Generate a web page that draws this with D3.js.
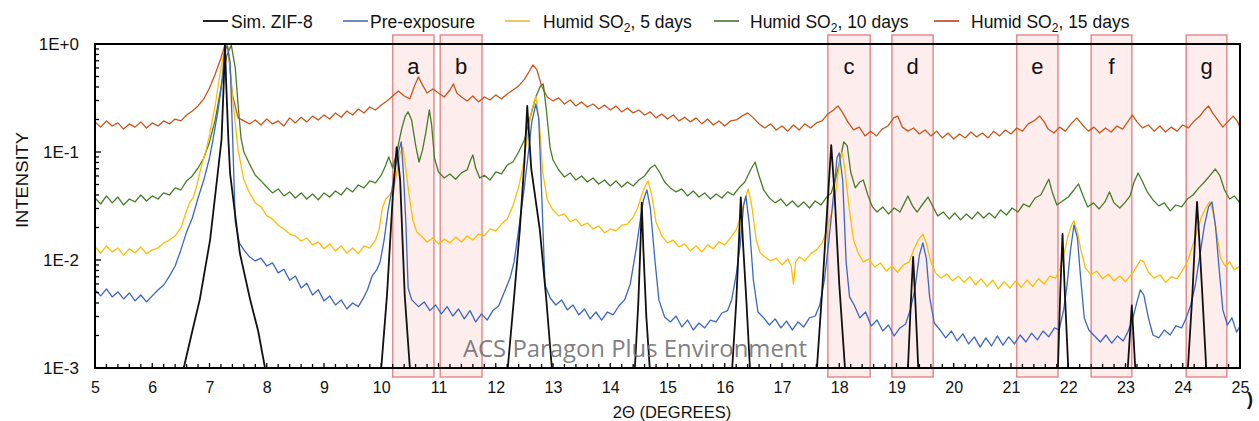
<!DOCTYPE html>
<html><head><meta charset="utf-8">
<script src="https://cdn.jsdelivr.net/npm/d3@7"></script>
<style>body{margin:0;background:#fff}svg{display:block}</style>
</head><body>
<svg id="chart" width="1259" height="421"></svg>
<script>
// ---------------- data ----------------
const seriesNames = ["Sim. ZIF-8", "Pre-exposure", "Humid SO2, 5 days", "Humid SO2, 10 days", "Humid SO2, 15 days"];
const xTicks = [5,6,7,8,9,10,11,12,13,14,15,16,17,18,19,20,21,22,23,24,25];
const yTicks = [1, 0.1, 0.01, 0.001];
const yTickLabels = ["1E+0", "1E-1", "1E-2", "1E-3"];
const regionLabels = ["a","b","c","d","e","f","g"];
const regionStart = [10.2, 11.03, 17.8, 18.92, 21.1, 22.4, 24.06];
const regionEnd   = [10.92, 11.76, 18.54, 19.64, 21.82, 23.11, 24.77];

const simZif8 = [[5.0,.0005],[6.5,.0008],[6.55,.001],[6.7,.0022],[6.83,.0043],[7.01,.0153],[7.13,.055],[7.21,.13],[7.25,.45],[7.27,1.0],[7.29,.45],[7.33,.13],[7.36,.063],[7.53,.0116],[7.71,.0043],[7.85,.0022],[7.97,.001],[8.02,.0008],
[9.98,.0008],[10.0,.001],[10.1,.0047],[10.2,.038],[10.27,.111],[10.33,.055],[10.41,.0047],[10.5,.001],[10.52,.0008],
[12.18,.0008],[12.21,.001],[12.32,.0045],[12.42,.019],[12.5,.08],[12.55,.267],[12.62,.07],[12.77,.019],[12.88,.0045],[12.98,.001],[13.0,.0008],
[14.41,.0008],[14.43,.001],[14.49,.004],[14.53,.015],[14.55,.034],[14.58,.012],[14.63,.003],[14.69,.001],[14.71,.0008],
[16.11,.0008],[16.13,.001],[16.2,.004],[16.25,.016],[16.28,.038],[16.32,.014],[16.38,.004],[16.44,.001],[16.46,.0008],
[17.59,.0008],[17.61,.001],[17.7,.005],[17.79,.03],[17.86,.116],[17.92,.04],[18.0,.006],[18.1,.001],[18.12,.0008],
[19.18,.0008],[19.2,.001],[19.25,.004],[19.29,.0107],[19.33,.004],[19.38,.001],[19.4,.0008],
[21.8,.0008],[21.82,.001],[21.86,.005],[21.9,.0174],[21.94,.005],[22.0,.001],[22.02,.0008],
[23.02,.0008],[23.04,.001],[23.11,.0038],[23.17,.001],[23.19,.0008],
[24.07,.0008],[24.09,.001],[24.17,.005],[24.22,.018],[24.25,.0345],[24.29,.015],[24.34,.005],[24.41,.001],[24.43,.0008],[25.0,.0005]];

const preExposure = [[5.0,.00528],[5.1,.00465],[5.2,.0054],[5.3,.00455],[5.4,.00506],[5.5,.00436],[5.6,.00495],[5.7,.00418],[5.8,.00474],[5.9,.00409],[6.0,.00465],[6.1,.00528],[6.2,.00587],[6.3,.0071],[6.4,.0088],[6.5,.0124],[6.6,.0182],[6.7,.0245],[6.8,.0375],[6.9,.055],[7.0,.088],[7.06,.129],[7.15,.245],[7.2,.375],[7.27,.88],[7.31,.96],[7.36,.68],[7.4,.16],[7.45,.0225],[7.52,.0144],[7.6,.0124],[7.7,.0107],[7.8,.0098],[7.9,.0104],[8.0,.0088],[8.1,.0094],[8.2,.0076],[8.3,.0082],[8.4,.0065],[8.5,.0071],[8.6,.0055],[8.7,.0061],[8.8,.00474],[8.9,.0053],[9.0,.00418],[9.1,.00465],[9.2,.00383],[9.3,.00427],[9.4,.00352],[9.5,.0040],[9.6,.0037],[9.68,.00436],[9.76,.0053],[9.84,.0071],[9.92,.0081],[9.98,.0096],[10.05,.0153],[10.12,.029],[10.18,.0427],[10.24,.0682],[10.3,.10],[10.35,.124],[10.39,.06],[10.43,.022],[10.47,.0055],[10.53,.0043],[10.65,.0037],[10.75,.00409],[10.85,.0034],[10.95,.00383],[11.05,.00317],[11.15,.0037],[11.25,.00303],[11.35,.00352],[11.45,.00285],[11.55,.0034],[11.65,.00267],[11.75,.00317],[11.85,.00278],[11.95,.0034],[12.05,.00375],[12.15,.00506],[12.25,.0068],[12.32,.0096],[12.4,.019],[12.48,.0392],[12.56,.088],[12.63,.190],[12.7,.278],[12.75,.207],[12.8,.0445],[12.86,.0059],[12.95,.00445],[13.05,.00383],[13.15,.00427],[13.25,.00345],[13.35,.00383],[13.45,.0031],[13.55,.00352],[13.65,.00285],[13.75,.0033],[13.85,.00278],[13.95,.0033],[14.05,.0031],[14.15,.00375],[14.25,.00427],[14.35,.006],[14.45,.0124],[14.52,.0225],[14.58,.036],[14.64,.0445],[14.7,.0303],[14.78,.01],[14.85,.00427],[14.95,.00297],[15.05,.00267],[15.15,.00303],[15.25,.0024],[15.35,.00278],[15.45,.00225],[15.55,.00261],[15.65,.00235],[15.75,.00278],[15.85,.00267],[15.95,.00323],[16.05,.0034],[16.12,.00427],[16.2,.0073],[16.27,.0138],[16.33,.0323],[16.37,.0392],[16.43,.0211],[16.5,.0065],[16.58,.0033],[16.68,.00291],[16.78,.0025],[16.88,.00285],[16.98,.00235],[17.08,.00272],[17.18,.00225],[17.28,.00267],[17.38,.0024],[17.48,.00291],[17.58,.00303],[17.66,.00383],[17.74,.0065],[17.82,.0153],[17.9,.040],[17.96,.088],[18.0,.098],[18.06,.055],[18.12,.0096],[18.18,.00455],[18.26,.00383],[18.36,.00291],[18.46,.0033],[18.56,.00245],[18.66,.00278],[18.76,.0022],[18.86,.0025],[18.96,.00198],[19.06,.00235],[19.16,.00256],[19.24,.00345],[19.32,.0053],[19.4,.0111],[19.46,.0144],[19.52,.0104],[19.58,.00445],[19.66,.00261],[19.76,.00225],[19.86,.0019],[19.96,.0022],[20.06,.00178],[20.16,.00207],[20.26,.00167],[20.36,.00194],[20.46,.00156],[20.56,.0019],[20.66,.0016],[20.76,.00198],[20.86,.00163],[20.96,.00194],[21.06,.00167],[21.16,.00202],[21.26,.00174],[21.36,.0021],[21.46,.00182],[21.56,.0022],[21.66,.00194],[21.76,.00235],[21.84,.00225],[21.92,.00345],[21.98,.0059],[22.04,.0124],[22.1,.0211],[22.16,.016],[22.22,.0065],[22.28,.00291],[22.36,.00225],[22.46,.00198],[22.56,.00174],[22.66,.00202],[22.76,.0017],[22.86,.00198],[22.96,.00178],[23.04,.00215],[23.12,.00278],[23.2,.00409],[23.26,.0053],[23.32,.00474],[23.4,.00291],[23.48,.00202],[23.58,.0019],[23.68,.00225],[23.78,.00202],[23.88,.00245],[23.98,.00235],[24.06,.00291],[24.14,.00383],[24.22,.0059],[24.3,.0111],[24.38,.0211],[24.45,.031],[24.51,.0345],[24.57,.0211],[24.63,.009],[24.7,.00345],[24.78,.0025],[24.86,.00291],[24.94,.00215],[25.0,.00245]];

const fiveDays = [[5.0,.0132],[5.1,.0116],[5.2,.0135],[5.3,.0119],[5.4,.0129],[5.5,.0111],[5.6,.0127],[5.7,.0116],[5.8,.0132],[5.9,.0114],[6.0,.0124],[6.1,.0129],[6.2,.0144],[6.3,.0153],[6.4,.0167],[6.5,.0198],[6.58,.0267],[6.65,.0338],[6.72,.0383],[6.78,.0495],[6.85,.0711],[6.95,.109],[7.0,.144],[7.1,.272],[7.2,.60],[7.28,.98],[7.34,.808],[7.4,.330],[7.5,.104],[7.6,.055],[7.7,.0418],[7.8,.0338],[7.9,.031],[8.0,.0256],[8.1,.024],[8.2,.021],[8.3,.0194],[8.4,.0174],[8.5,.0167],[8.6,.015],[8.7,.016],[8.8,.0138],[8.9,.0147],[9.0,.0127],[9.1,.0141],[9.2,.0121],[9.3,.0135],[9.4,.0116],[9.5,.0129],[9.6,.0114],[9.7,.0135],[9.8,.0129],[9.9,.0153],[9.96,.019],[10.02,.0303],[10.08,.0367],[10.15,.040],[10.22,.0465],[10.28,.0682],[10.33,.098],[10.38,.111],[10.43,.0682],[10.48,.0427],[10.55,.0235],[10.62,.0182],[10.7,.0167],[10.8,.0147],[10.9,.016],[11.0,.0141],[11.1,.0156],[11.2,.0144],[11.3,.0163],[11.4,.0147],[11.5,.0167],[11.6,.0153],[11.7,.0174],[11.8,.0167],[11.9,.0194],[12.0,.0186],[12.1,.0215],[12.2,.024],[12.3,.0317],[12.4,.0474],[12.48,.0757],[12.55,.135],[12.62,.235],[12.7,.330],[12.76,.190],[12.82,.0653],[12.9,.036],[13.0,.029],[13.1,.0256],[13.2,.0267],[13.3,.0225],[13.4,.024],[13.5,.0207],[13.6,.022],[13.7,.0194],[13.8,.0207],[13.9,.0178],[14.0,.0194],[14.1,.0186],[14.2,.021],[14.3,.0215],[14.4,.025],[14.48,.0303],[14.55,.040],[14.61,.0485],[14.66,.054],[14.72,.0409],[14.8,.0225],[14.9,.0167],[15.0,.0144],[15.1,.0153],[15.2,.0132],[15.3,.0141],[15.4,.0121],[15.5,.0135],[15.6,.0119],[15.7,.0138],[15.8,.0127],[15.9,.0147],[16.0,.0138],[16.1,.016],[16.2,.019],[16.28,.0256],[16.35,.036],[16.41,.0455],[16.47,.0323],[16.55,.0153],[16.62,.0116],[16.7,.0107],[16.8,.0098],[16.9,.0104],[17.0,.009],[17.1,.0102],[17.16,.0088],[17.2,.006],[17.24,.0096],[17.3,.0107],[17.4,.0098],[17.5,.0114],[17.6,.0124],[17.7,.0144],[17.8,.0198],[17.88,.0291],[17.95,.0465],[18.0,.0757],[18.05,.10],[18.1,.0682],[18.17,.031],[18.25,.0153],[18.33,.0116],[18.42,.0096],[18.52,.0102],[18.62,.0086],[18.72,.0094],[18.82,.0079],[18.92,.0088],[19.02,.0077],[19.12,.009],[19.22,.0096],[19.3,.0124],[19.38,.0153],[19.46,.0174],[19.52,.0144],[19.6,.0096],[19.68,.0076],[19.78,.0068],[19.88,.0074],[19.98,.0064],[20.08,.0071],[20.18,.0062],[20.28,.007],[20.38,.0059],[20.48,.0067],[20.58,.0057],[20.68,.0065],[20.78,.0054],[20.88,.0063],[20.98,.0055],[21.08,.0064],[21.18,.0056],[21.28,.0065],[21.38,.0057],[21.48,.0067],[21.58,.006],[21.68,.0071],[21.78,.0068],[21.86,.0084],[21.94,.0124],[22.0,.017],[22.06,.0211],[22.1,.023],[22.16,.0182],[22.22,.0124],[22.3,.0084],[22.4,.0073],[22.5,.0079],[22.6,.0067],[22.7,.0074],[22.8,.0064],[22.9,.0071],[23.0,.0063],[23.1,.0073],[23.18,.0084],[23.26,.01],[23.32,.0096],[23.4,.0077],[23.5,.0068],[23.6,.0073],[23.7,.0062],[23.8,.007],[23.9,.0067],[24.0,.0081],[24.08,.0096],[24.16,.0129],[24.24,.0178],[24.32,.0245],[24.4,.0303],[24.47,.0345],[24.53,.0278],[24.6,.017],[24.66,.0104],[24.74,.0088],[24.82,.0096],[24.9,.0081],[25.0,.0088]];

const tenDays = [[5.0,.0375],[5.1,.033],[5.2,.0392],[5.3,.0338],[5.4,.0383],[5.5,.0323],[5.6,.0367],[5.7,.0345],[5.8,.040],[5.9,.0352],[6.0,.0392],[6.1,.0367],[6.2,.0418],[6.3,.040],[6.4,.0465],[6.5,.0445],[6.6,.054],[6.7,.060],[6.8,.0711],[6.9,.088],[7.0,.124],[7.1,.198],[7.2,.392],[7.3,.774],[7.38,.98],[7.45,.60],[7.5,.272],[7.55,.135],[7.6,.10],[7.7,.0774],[7.8,.061],[7.9,.054],[8.0,.0474],[8.1,.0418],[8.2,.0455],[8.3,.0392],[8.4,.0427],[8.5,.0375],[8.6,.0418],[8.7,.0367],[8.8,.0409],[8.9,.036],[9.0,.0418],[9.1,.0383],[9.2,.0436],[9.3,.040],[9.4,.0465],[9.5,.0427],[9.6,.0495],[9.7,.0465],[9.8,.054],[9.9,.0517],[10.0,.061],[10.08,.0757],[10.13,.090],[10.2,.0711],[10.28,.104],[10.36,.167],[10.42,.215],[10.47,.235],[10.53,.198],[10.6,.116],[10.66,.0808],[10.72,.104],[10.78,.153],[10.84,.245],[10.88,.178],[10.93,.088],[11.0,.0653],[11.1,.0575],[11.2,.0626],[11.3,.056],[11.4,.064],[11.5,.0682],[11.56,.0843],[11.6,.094],[11.65,.0711],[11.72,.0575],[11.8,.061],[11.9,.055],[12.0,.0653],[12.1,.0626],[12.2,.0757],[12.3,.0808],[12.4,.10],[12.5,.129],[12.6,.207],[12.7,.323],[12.78,.409],[12.83,.427],[12.88,.256],[12.95,.109],[13.0,.0843],[13.1,.0682],[13.2,.0587],[13.3,.064],[13.4,.055],[13.5,.060],[13.6,.0528],[13.7,.0575],[13.8,.0506],[13.9,.055],[14.0,.0485],[14.1,.054],[14.2,.0474],[14.3,.0528],[14.4,.0485],[14.5,.055],[14.6,.060],[14.7,.0711],[14.78,.0757],[14.86,.0653],[14.95,.0528],[15.05,.0465],[15.15,.0427],[15.25,.0455],[15.35,.0392],[15.45,.0436],[15.55,.0383],[15.65,.0418],[15.75,.0367],[15.85,.0409],[15.95,.0375],[16.05,.0427],[16.15,.040],[16.25,.0465],[16.35,.0528],[16.45,.0682],[16.53,.0808],[16.6,.060],[16.68,.0445],[16.78,.0375],[16.88,.0338],[16.98,.0367],[17.08,.0317],[17.18,.0352],[17.28,.031],[17.38,.0345],[17.48,.0303],[17.58,.0352],[17.68,.0323],[17.78,.0383],[17.86,.0418],[17.94,.0575],[18.02,.088],[18.08,.124],[18.14,.114],[18.2,.0653],[18.28,.0465],[18.36,.0528],[18.42,.055],[18.5,.040],[18.58,.031],[18.66,.0278],[18.76,.031],[18.86,.0267],[18.96,.0303],[19.06,.0278],[19.14,.0338],[19.2,.0392],[19.28,.0317],[19.36,.0278],[19.46,.033],[19.55,.0383],[19.64,.031],[19.72,.0256],[19.82,.0278],[19.92,.024],[20.02,.0272],[20.12,.0235],[20.22,.0267],[20.32,.024],[20.42,.0278],[20.52,.0245],[20.62,.0272],[20.72,.0245],[20.82,.0291],[20.92,.0261],[21.02,.0303],[21.12,.0278],[21.22,.033],[21.32,.031],[21.42,.0375],[21.52,.040],[21.6,.0485],[21.66,.056],[21.72,.0427],[21.8,.0323],[21.9,.0352],[22.0,.0383],[22.1,.0445],[22.18,.0506],[22.26,.0392],[22.34,.031],[22.44,.0338],[22.54,.0297],[22.64,.0345],[22.72,.0427],[22.8,.0338],[22.9,.0303],[23.0,.0345],[23.08,.0392],[23.15,.0528],[23.22,.064],[23.3,.0528],[23.38,.0427],[23.48,.036],[23.58,.0317],[23.68,.0338],[23.78,.0285],[23.88,.0323],[23.98,.031],[24.08,.0367],[24.18,.040],[24.28,.0465],[24.38,.0528],[24.48,.061],[24.57,.0696],[24.65,.060],[24.73,.0445],[24.82,.0367],[24.9,.0392],[25.0,.0338]];

const fifteenDays = [[5.0,.190],[5.1,.170],[5.2,.194],[5.3,.174],[5.4,.186],[5.5,.163],[5.6,.182],[5.7,.170],[5.8,.190],[5.9,.167],[6.0,.186],[6.1,.174],[6.2,.194],[6.3,.182],[6.4,.202],[6.5,.194],[6.6,.220],[6.7,.240],[6.8,.267],[6.9,.310],[7.0,.392],[7.1,.528],[7.2,.742],[7.27,.98],[7.32,.94],[7.36,.575],[7.4,.338],[7.5,.207],[7.6,.194],[7.7,.182],[7.8,.198],[7.9,.178],[8.0,.202],[8.1,.182],[8.2,.194],[8.3,.174],[8.4,.207],[8.5,.186],[8.6,.21],[8.7,.190],[8.8,.215],[8.9,.198],[9.0,.220],[9.1,.202],[9.2,.230],[9.3,.21],[9.4,.240],[9.5,.220],[9.6,.250],[9.7,.230],[9.8,.261],[9.9,.245],[10.0,.272],[10.1,.297],[10.2,.330],[10.3,.367],[10.4,.330],[10.5,.310],[10.58,.409],[10.65,.495],[10.72,.418],[10.8,.352],[10.9,.383],[11.0,.352],[11.1,.323],[11.2,.375],[11.26,.427],[11.32,.352],[11.4,.323],[11.5,.297],[11.6,.330],[11.7,.291],[11.8,.323],[11.9,.303],[12.0,.338],[12.1,.310],[12.2,.345],[12.3,.375],[12.4,.409],[12.5,.47],[12.58,.551],[12.65,.64],[12.72,.575],[12.8,.409],[12.9,.323],[13.0,.297],[13.1,.317],[13.2,.278],[13.3,.303],[13.4,.267],[13.5,.291],[13.6,.261],[13.7,.278],[13.8,.250],[13.9,.272],[14.0,.245],[14.1,.267],[14.2,.235],[14.3,.256],[14.4,.230],[14.5,.245],[14.6,.220],[14.7,.235],[14.8,.207],[14.9,.225],[15.0,.202],[15.1,.220],[15.2,.194],[15.3,.21],[15.4,.190],[15.5,.207],[15.6,.182],[15.7,.202],[15.8,.178],[15.9,.194],[16.0,.174],[16.1,.194],[16.2,.198],[16.3,.215],[16.4,.230],[16.5,.207],[16.6,.182],[16.7,.167],[16.8,.182],[16.9,.160],[17.0,.174],[17.1,.156],[17.2,.178],[17.3,.160],[17.4,.182],[17.5,.167],[17.6,.186],[17.7,.194],[17.8,.225],[17.9,.245],[17.98,.267],[18.05,.235],[18.15,.190],[18.25,.160],[18.35,.170],[18.45,.141],[18.55,.156],[18.65,.141],[18.75,.163],[18.85,.174],[18.95,.207],[19.02,.215],[19.1,.170],[19.2,.156],[19.3,.167],[19.4,.147],[19.5,.160],[19.6,.141],[19.7,.156],[19.8,.135],[19.9,.150],[20.0,.132],[20.1,.147],[20.2,.135],[20.3,.153],[20.4,.138],[20.5,.150],[20.6,.135],[20.7,.156],[20.8,.141],[20.9,.160],[21.0,.147],[21.1,.167],[21.2,.156],[21.3,.182],[21.4,.194],[21.5,.215],[21.58,.190],[21.65,.163],[21.75,.150],[21.85,.170],[21.95,.156],[22.05,.182],[22.15,.207],[22.25,.178],[22.35,.156],[22.45,.170],[22.55,.150],[22.65,.167],[22.75,.153],[22.85,.174],[22.95,.163],[23.05,.194],[23.12,.220],[23.2,.190],[23.3,.167],[23.4,.178],[23.5,.156],[23.6,.174],[23.7,.153],[23.8,.170],[23.9,.156],[24.0,.178],[24.1,.167],[24.2,.194],[24.3,.215],[24.38,.245],[24.45,.267],[24.52,.230],[24.6,.202],[24.7,.170],[24.8,.194],[24.88,.215],[24.95,.194],[25.0,.170]];

// ---------------- drawing ----------------
const seriesData = [simZif8, preExposure, fiveDays, tenDays, fifteenDays];
const seriesColors = ["#111111", "#3b66c2", "#ffbd00", "#477c27", "#c8561b"];
const legendColors = ["#222222", "#6f8bc6", "#f3c466", "#6a8f58", "#cc644a"];
const seriesWidths = [1.8, 1.3, 1.3, 1.3, 1.3];

const svg = d3.select("#chart");
const font = "'Liberation Sans', Arial, sans-serif";
const L = 95, R = 1240, T = 44, B = 368;
const x = d3.scaleLinear().domain([5, 25]).range([L, R]);
const y = d3.scaleLog().domain([0.001, 1]).range([B, T]);

svg.append("rect").attr("width", 1259).attr("height", 421).attr("fill", "#fff");

// highlighted regions
const boxes = svg.append("g");
regionLabels.forEach((lab, i) => {
  boxes.append("rect")
    .attr("x", x(regionStart[i])).attr("y", 35)
    .attr("width", x(regionEnd[i]) - x(regionStart[i])).attr("height", 342)
    .attr("fill", "#fdeded").attr("stroke", "#e98a8c").attr("stroke-width", 1.5);
});

// clip
svg.append("defs").append("clipPath").attr("id", "plotClip")
  .append("rect").attr("x", L).attr("y", T).attr("width", R - L).attr("height", B - T);

const line = d3.line().x(d => x(d[0])).y(d => y(d[1]));
const curves = svg.append("g").attr("clip-path", "url(#plotClip)");
[4, 3, 2, 1, 0].forEach(i => {
  curves.append("path").datum(seriesData[i])
    .attr("d", line).attr("fill", "none")
    .attr("stroke", seriesColors[i]).attr("stroke-width", seriesWidths[i])
    .attr("stroke-linejoin", "round");
});

// inner ticks
const tickG = svg.append("g").attr("stroke", "#000").attr("stroke-width", 1.3);
d3.range(0, 101).map(k => 5 + k * 0.2).forEach((v, k) => {
  tickG.append("line").attr("x1", x(v)).attr("x2", x(v))
    .attr("y1", B).attr("y2", B - (k % 5 === 0 ? 5 : 4));
});
[-3, -2, -1].forEach(d => {
  for (let k = 1; k <= 9; k++) {
    const v = k * Math.pow(10, d);
    tickG.append("line").attr("x1", L).attr("x2", L + (k === 1 ? 6 : 4))
      .attr("y1", y(v)).attr("y2", y(v));
  }
});

// frame
svg.append("rect").attr("x", L).attr("y", T).attr("width", R - L).attr("height", B - T)
  .attr("fill", "none").attr("stroke", "#000").attr("stroke-width", 2);

// axes labels through d3 axes
const xAxis = svg.append("g").attr("transform", `translate(0,${B})`)
  .call(d3.axisBottom(x).tickValues(xTicks).tickSize(0).tickPadding(14).tickFormat(d3.format("d")));
xAxis.select(".domain").remove();
xAxis.selectAll("text").attr("font-family", font).attr("font-size", 16).attr("fill", "#111");

const yAxis = svg.append("g").attr("transform", `translate(${L},0)`)
  .call(d3.axisLeft(y).tickValues(yTicks).tickSize(0).tickPadding(16)
    .tickFormat((d, i) => yTickLabels[i]));
yAxis.select(".domain").remove();
yAxis.selectAll("text").attr("font-family", font).attr("font-size", 17).attr("fill", "#111");

svg.append("text").attr("x", 672).attr("y", 418).attr("text-anchor", "middle")
  .attr("font-family", font).attr("font-size", 16.5).attr("fill", "#111").text("2Θ (DEGREES)");
svg.append("text").attr("transform", "translate(28,180) rotate(-90)").attr("text-anchor", "middle")
  .attr("font-family", font).attr("font-size", 16).attr("fill", "#111")
  .attr("textLength", 96).attr("lengthAdjust", "spacingAndGlyphs").text("INTENSITY");

// region letters
regionLabels.forEach((lab, i) => {
  svg.append("text").attr("x", (x(regionStart[i]) + x(regionEnd[i])) / 2).attr("y", 74)
    .attr("text-anchor", "middle").attr("font-family", font).attr("font-size", 22)
    .attr("fill", "#111").text(lab);
});

// legend
const legendLineX = [203, 343, 505, 714, 934];
const legendTextX = [231, 370, 543, 750, 971];
seriesNames.forEach((name, i) => {
  svg.append("line").attr("x1", legendLineX[i]).attr("x2", legendLineX[i] + 25)
    .attr("y1", 21).attr("y2", 21).attr("stroke", legendColors[i]).attr("stroke-width", 2);
  const t = svg.append("text").attr("x", legendTextX[i]).attr("y", 28)
    .attr("font-family", font).attr("font-size", 17.5).attr("fill", "#111");
  const m = name.match(/^(.*SO)2(.*)$/);
  if (m) {
    t.append("tspan").text(m[1]);
    t.append("tspan").attr("font-size", 12).attr("dy", 4).text("2");
    t.append("tspan").attr("dy", -4).text(m[2]);
  } else {
    t.text(name);
  }
});

// watermark
svg.append("text").attr("x", 463).attr("y", 357)
  .attr("font-family", "'Open Sans', sans-serif").attr("font-size", 24)
  .attr("fill", "#6f6f6f").attr("fill-opacity", 0.9)
  .attr("textLength", 344).attr("lengthAdjust", "spacingAndGlyphs")
  .text("ACS Paragon Plus Environment");

// clipped edge glyph at right
svg.append("text").attr("x", 1247).attr("y", 405).attr("font-family", font)
  .attr("font-size", 18).attr("font-weight", "bold").attr("fill", "#111").text(")");
</script>
</body></html>
